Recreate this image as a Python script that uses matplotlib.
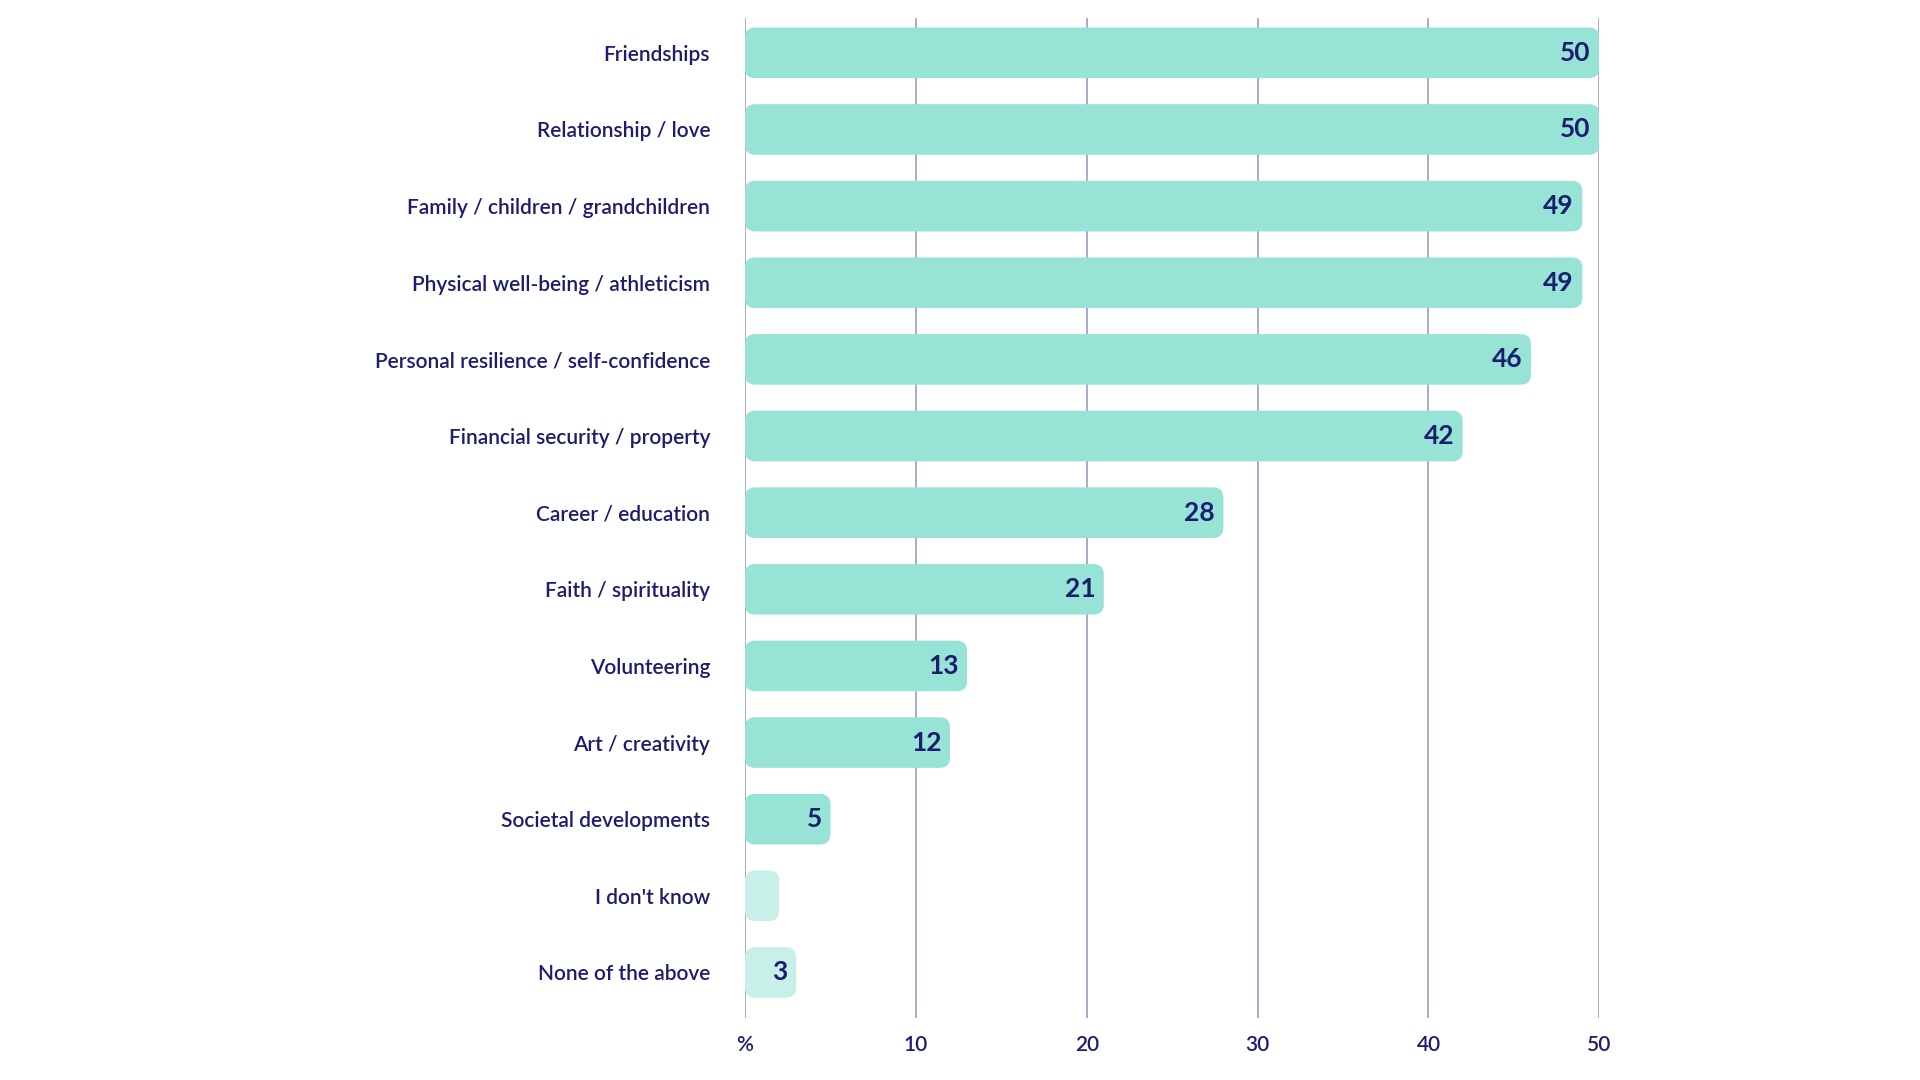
import matplotlib.pyplot as plt
from matplotlib.patches import FancyBboxPatch

categories = ["Friendships", "Relationship / love", "Family / children / grandchildren",
              "Physical well-being / athleticism", "Personal resilience / self-confidence",
              "Financial security / property", "Career / education", "Faith / spirituality",
              "Volunteering", "Art / creativity", "Societal developments",
              "I don't know", "None of the above"]
values = [50, 50, 49, 49, 46, 42, 28, 21, 13, 12, 5, 2, 3]
show_label = [True] * 11 + [False, True]
light = [False] * 11 + [True, True]
ticks = [0, 10, 20, 30, 40, 50]
tick_labels = ["%", "10", "20", "30", "40", "50"]

navy = "#1b1d6e"
plt.rcParams['font.family'] = ['Lato', 'DejaVu Sans']

fig = plt.figure(figsize=(19.2, 10.8), dpi=100)
ax = fig.add_axes([0.388, 0.057, 0.445, 0.926])
ax.set_xlim(0, 50)
ax.set_ylim(len(categories) - 0.4, -0.45)

for t in ticks:
    ax.axvline(t, color="#a3a3cc", lw=1.3, zorder=0)

h = 0.66
for i, (v, lt) in enumerate(zip(values, light)):
    box = FancyBboxPatch((0, i - h / 2), v, h,
                         boxstyle="round,pad=0,rounding_size=0.6",
                         mutation_aspect=0.22,
                         fc="#c8f0e9" if lt else "#97e3d5", ec="none", zorder=2)
    ax.add_patch(box)
    if show_label[i]:
        ax.text(v - 0.5, i, str(v), ha="right", va="center", color=navy,
                fontsize=19, fontweight="bold", zorder=3)

ax.set_yticks(range(len(categories)))
ax.set_yticklabels(categories, fontsize=15, color=navy, fontweight="semibold")
ax.set_xticks(ticks)
ax.set_xticklabels(tick_labels, fontsize=15, color=navy, fontweight="semibold")
ax.tick_params(length=0)
ax.tick_params(axis="y", pad=25)
ax.tick_params(axis="x", pad=12)
for s in ax.spines.values():
    s.set_visible(False)

fig.savefig("out.png", dpi=100, facecolor="white")
